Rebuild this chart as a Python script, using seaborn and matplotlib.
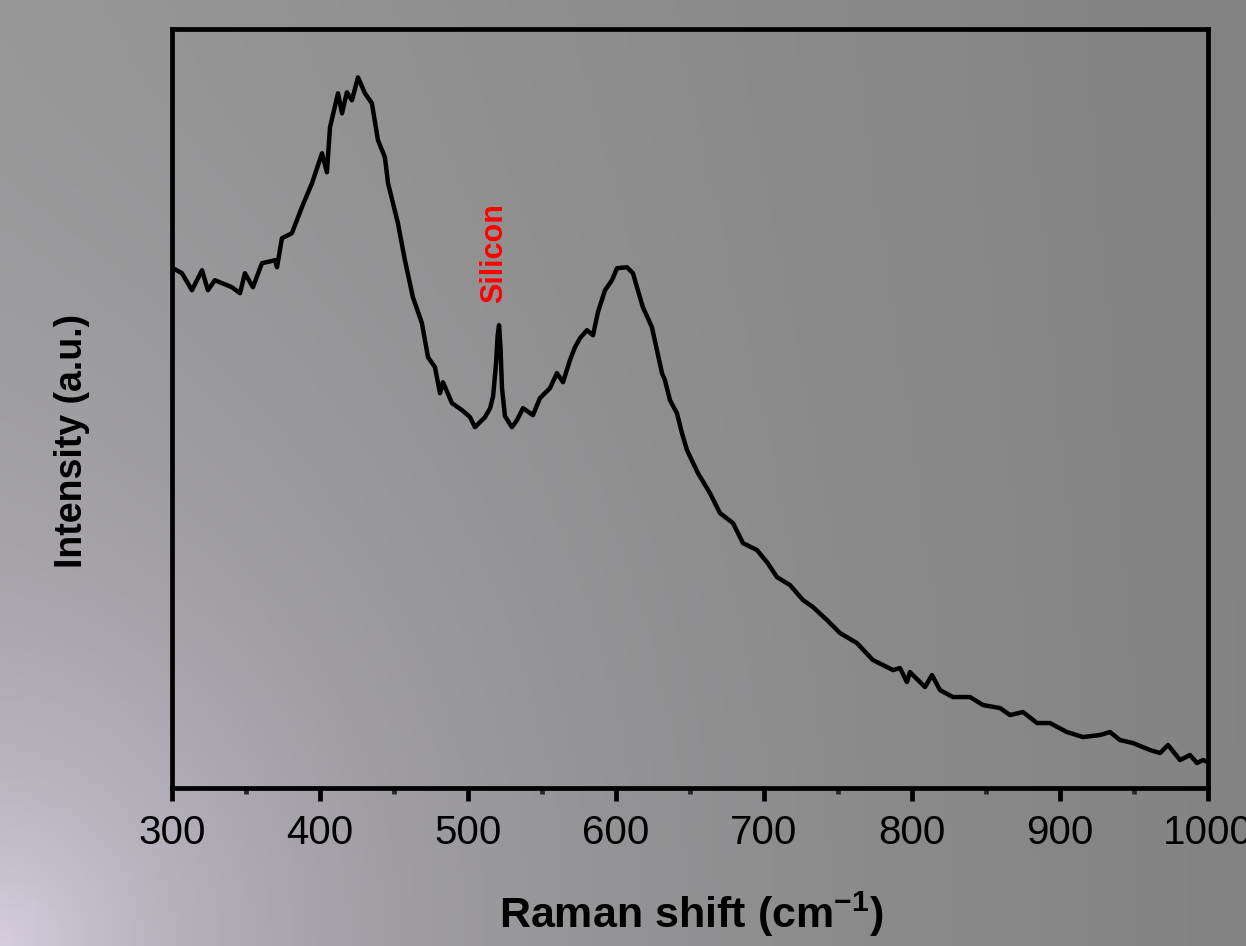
import numpy as np
import matplotlib
matplotlib.use("Agg")
import matplotlib.pyplot as plt
import seaborn as sns

# Raman spectrum (shift in cm-1, intensity in a.u.)
shift = [300, 300.7, 306.8, 313.5, 320.3, 324.3, 329, 340.5, 346, 349.3, 354.7,
         360.8, 369.6, 371, 374.3, 381, 387.8, 394.6, 401.4, 404.7, 406.8,
         412.2, 414.9, 418.2, 421.6, 425.7, 430.4, 435.1, 439.2, 443.9, 446,
         452.7, 457.4, 462.8, 468.9, 473, 477.7, 481.1, 483.1, 489.2, 496,
         501.4, 504.7, 511.5, 515, 517, 519, 520, 521, 522, 523, 525, 529.7,
         533.1, 537.2, 543.9, 548.6, 555.4, 560.1, 564.2, 568.9, 572.3, 575.7,
         580.4, 584.5, 587.8, 592.6, 597.3, 600.7, 607.4, 611.5, 614.2, 618.2,
         624.3, 631.1, 633.1, 636.5, 641.2, 644.6, 648, 655.4, 663.5, 670.3,
         679.1, 685.8, 695.3, 702, 708.8, 717.6, 726.4, 733.1, 742.6, 751.4,
         762.8, 773.6, 787.2, 791.9, 796.6, 798.6, 808.8, 813.5, 818.9, 827.7,
         839.2, 848, 859.5, 866.2, 875, 884.5, 893.2, 904.7, 915.5, 927, 933.8,
         940.5, 949.3, 960.8, 967.6, 973, 981.1, 987.8, 992.6, 996.6, 1000]
intensity = [518, 520, 515, 498, 518, 498, 508, 501, 495, 515, 501,
             525, 528, 521, 550, 555, 581, 605, 635, 616, 661,
             695, 675, 696, 688, 711, 695, 685, 648, 631, 605,
             565, 528, 491, 465, 431, 421, 395, 406, 385, 378,
             371, 361, 371, 380, 392, 425, 452, 463, 440, 400, 372, 361,
             368, 380, 373, 390, 400, 415, 406, 428, 441, 450,
             458, 453, 476, 498, 508, 520, 521, 515, 501, 481,
             461, 415, 408, 388, 375, 355, 338, 315, 295, 275,
             265, 245, 238, 226, 211, 203, 188, 181, 168, 155,
             145, 128, 118, 120, 106, 116, 101, 113, 98, 91,
             91, 83, 80, 73, 76, 65, 65, 56, 51, 53, 56,
             48, 45, 38, 35, 43, 28, 33, 25, 28, 26]

sns.set_style("ticks")
plt.rcParams['font.family'] = ['Liberation Sans', 'DejaVu Sans']
plt.rcParams['mathtext.fontset'] = 'custom'
plt.rcParams['mathtext.rm'] = 'Liberation Sans'
plt.rcParams['mathtext.bf'] = 'Liberation Sans:bold'
plt.rcParams['text.color'] = 'black'
plt.rcParams['axes.labelcolor'] = 'black'

fig = plt.figure(figsize=(12.46, 9.46), dpi=100)

# grey backdrop with a lavender glow in the lower left corner
h, w = 200, 260
xx, yy = np.meshgrid(np.linspace(0, 1, w), np.linspace(0, 1, h))
base = 0.585 - 0.075 * xx
d = np.sqrt((xx * 1.32) ** 2 + (1 - yy) ** 2)
glow = np.exp(-d / 0.32)
img = np.dstack([base + glow * 0.25, base + glow * 0.22, base + glow * 0.29])
img = np.clip(img, 0, 1)
bg = fig.add_axes([0, 0, 1, 1], zorder=-1)
bg.imshow(img, aspect='auto', extent=[0, 1, 0, 1])
bg.axis('off')

ax = fig.add_axes([0.138, 0.167, 0.8315, 0.802])
ax.patch.set_alpha(0)
sns.lineplot(x=shift, y=intensity, ax=ax, color='black', linewidth=3.2)

ax.set_xlim(300, 1000)
ax.set_ylim(0, 759)
ax.set_xticks(range(300, 1001, 100))
ax.set_xticks(range(350, 1000, 100), minor=True)
ax.set_yticks([])
for s in ax.spines.values():
    s.set_visible(True)
    s.set_linewidth(3.4)
    s.set_color('black')
ax.tick_params(axis='x', which='major', length=9, width=3.4, direction='out',
               labelsize=29, pad=10, colors='black')
ax.tick_params(axis='x', which='minor', length=4, width=3.4, direction='out')

ax.set_xlabel('Raman shift (cm$^{\\mathbf{-1}}$)', fontsize=31, fontweight='bold',
              va='center')
ax.xaxis.set_label_coords(0.501, -0.167)
ax.set_ylabel('Intensity (a.u.)', fontsize=27, fontweight='bold', va='center')
ax.yaxis.set_label_coords(-0.0965, 0.458)

ax.text(518, 485, 'Silicon', color='red', rotation=90, ha='center', va='bottom',
        fontsize=22, fontweight='bold')

fig.savefig('out.png', dpi=100)
